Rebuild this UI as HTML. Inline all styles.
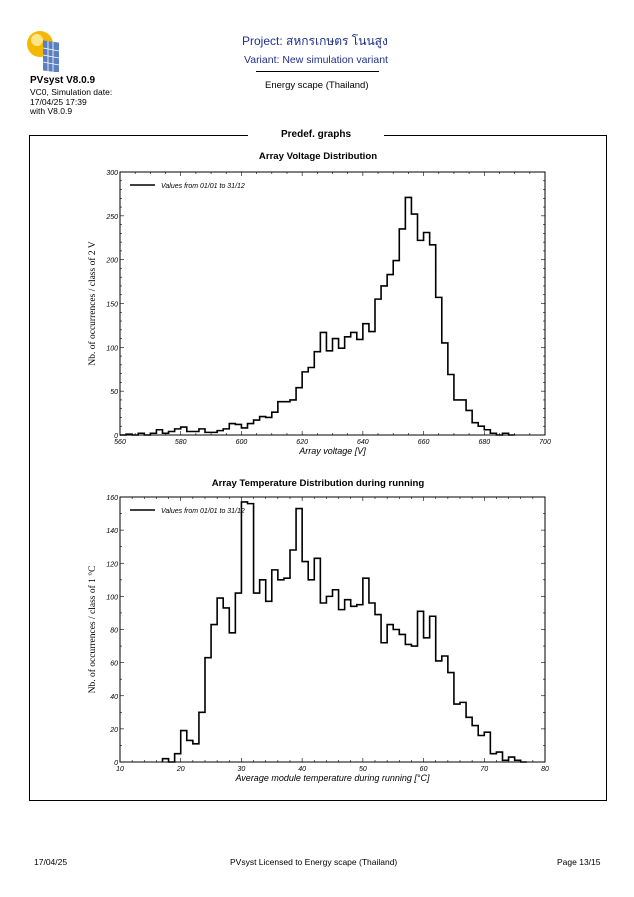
<!DOCTYPE html>
<html><head><meta charset="utf-8"><style>
body{margin:0;width:634px;height:897px;background:#fff;font-family:"Liberation Sans",sans-serif;position:relative;overflow:hidden}
.a{position:absolute;white-space:nowrap}
</style></head><body>
<svg class="a" style="left:26px;top:28px" width="36" height="44" viewBox="0 0 36 44">
<circle cx="14" cy="16" r="13" fill="#f5b800"/><circle cx="11" cy="12" r="6" fill="#ffe58a"/>
<g fill="#5b7fc0"><rect x="17" y="10" width="16" height="30" transform="skewY(8)"/></g>
<g stroke="#fff" stroke-width="0.8"><line x1="17" y1="20" x2="33" y2="23"/><line x1="17" y1="27" x2="33" y2="30"/><line x1="17" y1="34" x2="33" y2="37"/><line x1="22" y1="13" x2="22" y2="44"/><line x1="27" y1="14" x2="27" y2="44"/></g>
</svg>
<div class="a" style="left:30px;top:75px;font-size:10px;font-weight:bold">PVsyst V8.0.9</div>
<div class="a" style="left:30px;top:88px;font-size:8.5px;line-height:9.5px">VC0, Simulation date:<br>17/04/25 17:39<br>with V8.0.9</div>
<div class="a" style="left:242px;top:32px;font-size:12px;color:#1f2f8a;font-family:'Liberation Sans','Noto Sans CJK SC',sans-serif">Project: สหกรเกษตร โนนสูง</div>
<div class="a" style="left:244px;top:54px;font-size:10.5px;color:#1f2f8a">Variant: New simulation variant</div>
<div class="a" style="left:256px;top:71px;width:123px;border-top:1px solid #000"></div>
<div class="a" style="left:265px;top:80px;font-size:9.5px">Energy scape (Thailand)</div>
<div class="a" style="left:29px;top:135px;width:576px;height:664px;border:1px solid #000"></div>
<div class="a" style="left:248px;top:129px;width:136px;height:12px;background:#fff;text-align:center;font-size:10px;font-weight:bold">Predef. graphs</div>
<div class="a" style="left:34px;top:857px;font-size:8.5px">17/04/25</div>
<div class="a" style="left:230px;top:857px;font-size:8.5px">PVsyst Licensed to  Energy scape (Thailand)</div>
<div class="a" style="left:557px;top:857px;font-size:8.5px">Page 13/15</div>
<svg id="s" class="a" style="left:0;top:0" width="634" height="897"></svg>
<script>
var s='';
function chart(L,T,R,B,x0,x1,xs,xm,y1,ys,ym,bw,start,vals,title,xl,yl,ty){
 var W=R-L,H=B-T;
 function X(v){return L+(v-x0)/(x1-x0)*W}
 function Y(v){return B-v/y1*H}
 s+='<text x="318" y="'+ty+'" text-anchor="middle" font-size="9.6" font-weight="bold">'+title+'</text>';
 s+='<rect x="'+L+'" y="'+T+'" width="'+W+'" height="'+H+'" fill="none" stroke="#000" stroke-width="1"/>';
 for(var v=x0;v<=x1+1e-6;v+=xm){var big=Math.abs((v-x0)/xs-Math.round((v-x0)/xs))<1e-6;var l=big?4:2;
  s+='<line x1="'+X(v)+'" y1="'+B+'" x2="'+X(v)+'" y2="'+(B-l)+'" stroke="#000" stroke-width="0.6"/><line x1="'+X(v)+'" y1="'+T+'" x2="'+X(v)+'" y2="'+(T+l)+'" stroke="#000" stroke-width="0.6"/>';
  if(big)s+='<text x="'+X(v)+'" y="'+(B+9)+'" text-anchor="middle" font-size="7" font-style="italic">'+v+'</text>';}
 for(var v=0;v<=y1+1e-6;v+=ym){var big=Math.abs(v/ys-Math.round(v/ys))<1e-6;var l=big?4:2;
  s+='<line x1="'+L+'" y1="'+Y(v)+'" x2="'+(L+l)+'" y2="'+Y(v)+'" stroke="#000" stroke-width="0.6"/><line x1="'+R+'" y1="'+Y(v)+'" x2="'+(R-l)+'" y2="'+Y(v)+'" stroke="#000" stroke-width="0.6"/>';
  if(big)s+='<text x="'+(L-2)+'" y="'+(Y(v)+3)+'" text-anchor="end" font-size="7" font-style="italic">'+v+'</text>';}
 var d='M'+X(start)+','+Y(0);
 for(var i=0;i<vals.length;i++){var a=start+i*bw;d+=' L'+X(a)+','+Y(vals[i])+' L'+X(a+bw)+','+Y(vals[i]);}
 d+=' L'+X(start+vals.length*bw)+','+Y(0);
 s+='<path d="'+d+'" fill="none" stroke="#000" stroke-width="1.6"/>';
 s+='<line x1="'+(L+10)+'" y1="'+(T+13)+'" x2="'+(L+35)+'" y2="'+(T+13)+'" stroke="#000" stroke-width="1.5"/><text x="'+(L+41)+'" y="'+(T+16)+'" font-size="7" font-style="italic">Values from 01/01 to 31/12</text>';
 s+='<text x="'+(L+R)/2+'" y="'+(B+19)+'" text-anchor="middle" font-size="9" font-style="italic">'+xl+'</text>';
 s+='<text transform="translate('+(L-25)+','+(T+B)/2+') rotate(-90)" text-anchor="middle" font-size="9.5" font-family="Liberation Serif,serif">'+yl+'</text>';
}
chart(120,172,545,435,560,700,20,5,300,50,10,2,560,
[0,1,0,2,0,2,6,2,4,7,9,4,4,7,3,3,5,7,13,12,8,13,17,21,20,26,38,38,40,54,72,77,95,117,96,110,99,112,117,109,127,118,155,170,183,199,235,271,252,222,231,217,157,105,69,40,40,28,14,10,6,2,0,2,0],
'Array Voltage Distribution','Array voltage [V]','Nb. of occurrences / class of 2 V',159);
chart(120,497,545,762,10,80,10,2,160,20,10,1,17,
[2,0,5,19,13,11,30,63,83,99,93,78,102,157,156,102,110,97,116,110,111,128,153,121,110,123,96,100,104,92,98,94,95,111,96,89,72,83,80,77,71,70,91,75,88,61,64,54,35,36,27,22,16,18,5,6,1,3,1,0],
'Array Temperature Distribution during running','Average module temperature during running [°C]','Nb. of occurrences / class of 1 °C',486);
document.getElementById('s').innerHTML=s;
</script>
</body></html>
